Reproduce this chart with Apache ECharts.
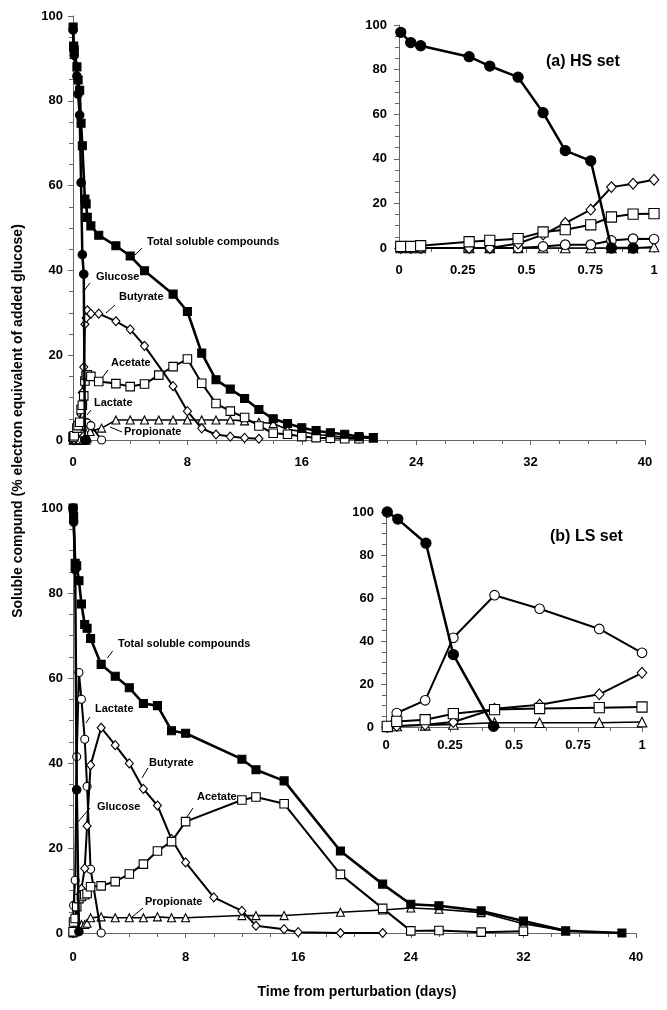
<!DOCTYPE html>
<html><head><meta charset="utf-8">
<script src="https://cdn.jsdelivr.net/npm/echarts@6/dist/echarts.min.js"></script>
<style>html,body{margin:0;padding:0;background:#fff}#c{width:667px;height:1010px}</style>
</head><body><div id="c"></div><script>
// ---------- (a) HS set : [day, % electron equivalent] ----------
const hsTotal = [[0.007,97.4],[0.046,92.9],[0.085,92],[0.275,88],[0.356,84.9],[0.467,82.5],[0.565,74.7],[0.652,69.4],[0.833,56.8],[0.918,55.7],[1.0,52.5],[1.25,50.5],[1.8,48.3],[3,45.8],[4,43.4],[5,39.9],[7,34.4],[8,30.3],[9,20.5],[10,14.2],[11,12],[12,9.8],[13,7.2],[14,5.0],[15,3.9],[16,2.9],[17,2.2],[18,1.7],[19,1.35],[20,0.8],[21,0.6]];
const hsGlucose = [[0.007,96.7],[0.046,92.1],[0.085,90.7],[0.275,85.8],[0.356,81.6],[0.467,76.6],[0.565,60.7],[0.652,43.7],[0.752,39.1],[0.833,0],[0.918,0]];
const hsButyrate = [[0.007,0],[0.046,0],[0.085,0],[0.275,0],[0.356,0],[0.467,2],[0.565,6],[0.652,11.2],[0.752,17.2],[0.833,27.3],[0.918,28.8],[1.0,30.6],[1.25,29.8],[1.8,29.8],[3,28],[4,26.1],[5,22.2],[7,12.7],[8,6.8],[9,2.75],[10,1.3],[11,0.8],[12,0.5],[13,0.3]];
const hsAcetate = [[0.007,0.7],[0.046,0.7],[0.085,1],[0.275,2.8],[0.356,3.4],[0.467,4.2],[0.565,7.2],[0.652,8.2],[0.752,10.4],[0.833,13.9],[0.918,15.2],[1.0,15.4],[1.25,15],[1.8,13.8],[3,13.3],[4,12.6],[5,13.2],[6,15.3],[7,17.3],[8,19.1],[9,13.4],[10,8.6],[11,6.8],[12,5.3],[13,3.3],[14,1.6],[15,1.35],[16,0.8],[17,0.55],[18,0.4],[19,0.3],[20,0.3]];
const hsLactate = [[0.007,0],[0.046,0],[0.085,0],[0.275,0],[0.356,0],[0.467,0],[0.565,0.7],[0.652,1.5],[0.752,1.5],[0.833,3.4],[0.918,4.2],[1.0,4.0],[1.25,3.4],[2,0]];
const hsPropionate = [[0.007,0],[0.046,0],[0.085,0],[0.275,0],[0.356,0],[0.467,0],[0.565,0],[0.652,0],[0.752,0],[0.833,0],[0.918,0],[1.0,0.5],[1.2,2],[2,2.8],[3,4.7],[4,4.7],[5,4.7],[6,4.7],[7,4.7],[8,4.7],[9,4.7],[10,4.7],[11,4.7],[12,4.5],[13,4.2],[14,3.9],[15,2.5],[16,2.0],[17,1.3],[18,1.0],[19,0.7],[20,0.5],[21,0.4]];

// ---------- (b) LS set ----------
const lsTotal = [[0.005,100],[0.046,98],[0.153,87],[0.263,86.4],[0.424,82.9],[0.6,77.4],[0.833,72.6],[1.0,71.7],[1.25,69.3],[2,63.2],[3,60.4],[4,57.7],[5,54],[6,53.5],[7,47.6],[8,47],[12,40.9],[13,38.4],[15,35.8],[19,19.3],[22,11.5],[24,6.75],[26,6.4],[29,5.2],[32,2.8],[35,0.5],[39,0]];
const lsGlucose = [[0.005,100],[0.046,96.7],[0.156,85.5],[0.263,33.7],[0.42,0.3]];
const lsLactate = [[0.005,0],[0.042,6.5],[0.153,12.4],[0.263,41.5],[0.424,61.3],[0.6,55],[0.833,45.6],[1.0,34.5],[1.25,15],[2,0]];
const lsButyrate = [[0.005,0],[0.042,0.5],[0.153,1],[0.263,2.3],[0.424,8.5],[0.6,10.4],[0.833,15.2],[1.0,25.2],[1.25,39.5],[2,48.3],[3,44.2],[4,39.9],[5,33.9],[6,30],[7,22.1],[8,16.6],[10,8.4],[12,5.2],[13,1.7],[15,0.9],[16,0.2],[19,0],[22,0]];
const lsAcetate = [[0.005,0.3],[0.042,2.6],[0.153,3.4],[0.263,6.2],[0.424,8.1],[0.6,8.6],[0.833,9.0],[1.0,9.3],[1.25,10.9],[2,11.1],[3,12.1],[4,13.9],[5,16.2],[6,19.3],[7,21.5],[8,26.2],[12,31.3],[13,32],[15,30.4],[19,13.8],[22,5.8],[24,0.5],[26,0.6],[29,0.2],[32,0.4]];
const lsPropionate = [[0.005,0],[0.042,0.5],[0.153,0.8],[0.263,1.2],[0.424,2],[0.6,2],[0.833,2],[1.0,2.3],[1.25,3.6],[2,3.8],[3,3.6],[4,3.6],[5,3.6],[6,3.8],[7,3.6],[8,3.6],[12,4.1],[13,4.1],[15,4.1],[19,4.9],[22,5.4],[24,5.9],[26,5.6],[29,4.8],[32,2.2],[35,0.5]];

const mainXTicks = {min:0, max:40, interval:8};
const insetXTicks = {min:0, max:1, interval:0.25};
const yTicks = {min:0, max:100, interval:20};

const FONT = 'Liberation Sans, Arial, sans-serif';
const AX = '#666';

function xAxis(gi, t, minorSplit, fs, margin) {
  return {type:'value', gridIndex:gi, min:t.min, max:t.max, interval:t.interval,
    axisLine:{show:true, onZero:false, lineStyle:{color:AX, width:1}},
    axisTick:{show:true, length:5, lineStyle:{color:AX}},
    minorTick:{show:true, splitNumber:minorSplit, length:4, lineStyle:{color:AX}},
    splitLine:{show:false}, minorSplitLine:{show:false},
    axisLabel:{color:'#000', fontWeight:'bold', fontSize:fs, fontFamily:FONT, margin:margin}};
}
function yAxis(gi, fs, margin) {
  return {type:'value', gridIndex:gi, min:yTicks.min, max:yTicks.max, interval:yTicks.interval,
    axisLine:{show:true, onZero:false, lineStyle:{color:AX, width:1}},
    axisTick:{show:true, length:5, lineStyle:{color:AX}},
    minorTick:{show:true, splitNumber:4, length:4, lineStyle:{color:AX}},
    splitLine:{show:false}, minorSplitLine:{show:false},
    axisLabel:{color:'#000', fontWeight:'bold', fontSize:fs, fontFamily:FONT, margin:margin}};
}
function ser(data, gi, sym, fill, size, lw, z) {
  return {type:'line', xAxisIndex:gi, yAxisIndex:gi, data:data, symbol:sym, symbolSize:size,
    showSymbol:true, clip:false, animation:false, z:z,
    itemStyle:{color:fill, borderColor:'#000', borderWidth:1.1},
    lineStyle:{color:'#000', width:lw}, emphasis:{disabled:true}};
}
const upTo1 = d => d.filter(p => p[0] <= 1.0001);

function setSeries(gi, s, big, withTotal) {
  const k = big ? 1.2 : 1;
  const out = [
    ser(s.propionate, gi, 'triangle', '#fff', 8*k, 1.6, 3),
    ser(s.lactate, gi, 'circle', '#fff', 8*k, 2, 4),
    ser(s.butyrate, gi, 'diamond', '#fff', [8*k, 9*k], 2, 5),
    ser(s.acetate, gi, 'rect', '#fff', 8.5*k, 2, 6),
    ser(s.glucose, gi, 'circle', '#000', 8.5*k, 2.5, 7)
  ];
  if (withTotal) out.push(ser(s.total, gi, 'rect', '#000', 8, 2.6, 8));
  return out;
}

const HS = {total:hsTotal, glucose:hsGlucose, butyrate:hsButyrate, acetate:hsAcetate, lactate:hsLactate, propionate:hsPropionate};
const LS = {total:lsTotal, glucose:lsGlucose, butyrate:lsButyrate, acetate:lsAcetate, lactate:lsLactate, propionate:lsPropionate};
const HSi = {glucose:upTo1(hsGlucose), butyrate:upTo1(hsButyrate), acetate:upTo1(hsAcetate), lactate:upTo1(hsLactate), propionate:upTo1(hsPropionate)};
const LSi = {glucose:upTo1(lsGlucose), butyrate:upTo1(lsButyrate), acetate:upTo1(lsAcetate), lactate:upTo1(lsLactate), propionate:upTo1(lsPropionate)};

function label(text, x, y, fs) {
  return {type:'text', x:x, y:y, z:100, style:{text:text, fill:'#000', fontSize:fs||11, fontWeight:'bold', fontFamily:FONT, align:'left', verticalAlign:'middle'}};
}
function leader(x1,y1,x2,y2) {
  return {type:'line', z:100, shape:{x1:x1,y1:y1,x2:x2,y2:y2}, style:{stroke:'#000', lineWidth:1}};
}

const chart = echarts.init(document.getElementById('c'), null, {renderer:'canvas'});
chart.setOption({
  backgroundColor:'#fff',
  animation:false,
  grid:[
    {left:73, top:16, width:572, height:424},
    {left:399, top:25, width:255, height:223},
    {left:73, top:508, width:563, height:425},
    {left:386, top:512, width:256, height:215}
  ],
  xAxis:[xAxis(0, mainXTicks, 4, 13, 16), xAxis(1, insetXTicks, 2, 13, 16), xAxis(2, mainXTicks, 4, 13, 18), xAxis(3, insetXTicks, 2, 13, 12)],
  yAxis:[yAxis(0, 13, 10), yAxis(1, 13, 12), yAxis(2, 13, 10), yAxis(3, 13, 12)],
  series:[].concat(
    setSeries(0, HS, false, true),
    setSeries(1, HSi, true, false),
    setSeries(2, LS, false, true),
    setSeries(3, LSi, true, false)
  ),
  graphic:[
    {type:'text', x:18, y:421, rotation:Math.PI/2, z:100, style:{text:'Soluble compund (% electron equivalent of added glucose)', fill:'#000', fontSize:14, fontWeight:'bold', fontFamily:FONT, align:'center', verticalAlign:'middle'}},
    {type:'text', x:357, y:992, z:100, style:{text:'Time from perturbation (days)', fill:'#000', fontSize:14, fontWeight:'bold', fontFamily:FONT, align:'center', verticalAlign:'middle'}},
    label('(a) HS set', 546, 62, 16),
    label('(b) LS set', 550, 537, 16),
    // HS annotations
    label('Total soluble compounds', 147, 242), leader(142,248,135,255),
    label('Glucose', 96, 277), leader(90,283,83,292),
    label('Butyrate', 119, 297), leader(115,305,106,313),
    label('Acetate', 111, 363), leader(108,370,102,378),
    label('Lactate', 94, 403), leader(91,410,87,415),
    label('Propionate', 124, 432), leader(122,432,110,427),
    // LS annotations
    label('Total soluble compounds', 118, 644), leader(112.7,651,107.3,658),
    label('Lactate', 95, 709), leader(90,717,86,723),
    label('Butyrate', 149, 763), leader(148,768,142,778),
    label('Glucose', 97, 807), leader(90,808,77,823),
    label('Acetate', 197, 797), leader(193,808,187,817),
    label('Propionate', 145, 902), leader(143,908,132,917)
  ]
});
</script></body></html>
